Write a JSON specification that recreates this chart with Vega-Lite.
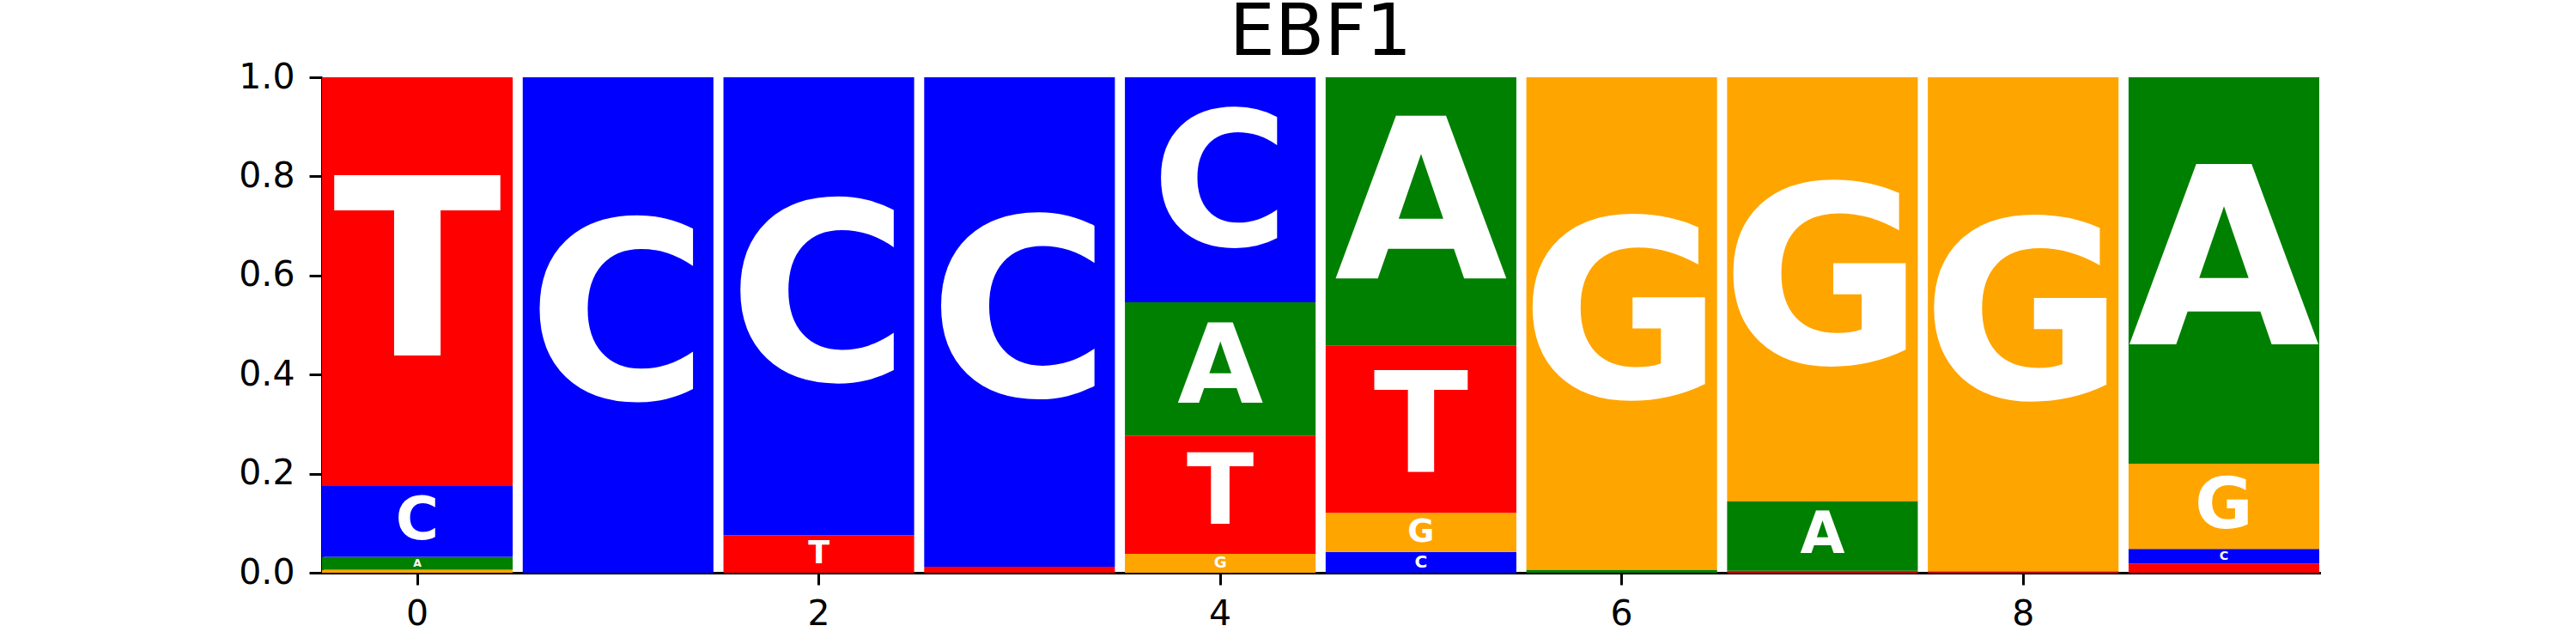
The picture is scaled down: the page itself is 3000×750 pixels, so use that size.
{
  "$schema": "https://vega.github.io/schema/vega-lite/v6.json",
  "width": 2326,
  "height": 577,
  "autosize": {"type": "none"},
  "padding": {"left": 375, "top": 90, "right": 299, "bottom": 83},
  "background": "white",
  "title": {"text": "EBF1", "fontSize": 84, "font": "DejaVu Sans", "fontWeight": "normal", "color": "black", "offset": -13, "anchor": "middle", "frame": "group"},
  "config": {"view": {"stroke": null}},
  "data": {"values": [
    {"pos": 0, "base": "G", "value": 0.006},
    {"pos": 0, "base": "A", "value": 0.026},
    {"pos": 0, "base": "C", "value": 0.143},
    {"pos": 0, "base": "T", "value": 0.825},
    {"pos": 1, "base": "C", "value": 1.0},
    {"pos": 2, "base": "T", "value": 0.076},
    {"pos": 2, "base": "C", "value": 0.924},
    {"pos": 3, "base": "T", "value": 0.012},
    {"pos": 3, "base": "C", "value": 0.988},
    {"pos": 4, "base": "G", "value": 0.038},
    {"pos": 4, "base": "T", "value": 0.239},
    {"pos": 4, "base": "A", "value": 0.269},
    {"pos": 4, "base": "C", "value": 0.454},
    {"pos": 5, "base": "C", "value": 0.042},
    {"pos": 5, "base": "G", "value": 0.079},
    {"pos": 5, "base": "T", "value": 0.337},
    {"pos": 5, "base": "A", "value": 0.542},
    {"pos": 6, "base": "A", "value": 0.006},
    {"pos": 6, "base": "G", "value": 0.994},
    {"pos": 7, "base": "T", "value": 0.004},
    {"pos": 7, "base": "A", "value": 0.140},
    {"pos": 7, "base": "G", "value": 0.856},
    {"pos": 8, "base": "T", "value": 0.003},
    {"pos": 8, "base": "G", "value": 0.997},
    {"pos": 9, "base": "T", "value": 0.018},
    {"pos": 9, "base": "C", "value": 0.030},
    {"pos": 9, "base": "G", "value": 0.172},
    {"pos": 9, "base": "A", "value": 0.780}
  ]},
  "transform": [
    {"stack": "value", "groupby": ["pos"], "sort": [{"field": "value", "order": "ascending"}], "as": ["y0", "y1"]}
  ],
  "encoding": {
    "x": {
      "field": "pos", "type": "ordinal",
      "scale": {"paddingInner": 0.05, "paddingOuter": 0},
      "axis": {"values": [0, 2, 4, 6, 8], "labelAngle": 0, "title": null, "labelFont": "DejaVu Sans", "labelFontSize": 41, "labelColor": "black", "labelPadding": 14, "tickSize": 14, "tickWidth": 3, "tickColor": "black", "domainColor": "black", "domainWidth": 3, "domainCap": "square", "grid": false}
    }
  },
  "layer": [
    {
      "mark": {"type": "bar", "cornerRadius": 0},
      "encoding": {
        "y": {"field": "y0", "type": "quantitative", "scale": {"domain": [0, 1], "nice": false},
          "axis": {"values": [0, 0.2, 0.4, 0.6, 0.8, 1.0], "format": ".1f", "title": null, "grid": false, "labelFont": "DejaVu Sans", "labelFontSize": 41, "labelColor": "black", "labelPadding": 17, "tickSize": 15, "tickWidth": 3, "tickColor": "black", "domainColor": "black", "domainWidth": 3}},
        "y2": {"field": "y1"},
        "color": {"field": "base", "type": "nominal", "legend": null,
          "scale": {"domain": ["A", "C", "G", "T"], "range": ["#008000", "#0000ff", "#ffa500", "#ff0000"]}}
      }
    },
    {
      "transform": [
        {"filter": "datum.value >= 0.02"},
        {"fold": ["y0", "y1"], "as": ["edge", "ey"]},
        {"aggregate": [{"op": "mean", "field": "ey", "as": "mid"}, {"op": "max", "field": "value", "as": "height"}], "groupby": ["pos", "base"]}
      ],
      "mark": {"type": "text", "color": "white", "font": "DejaVu Sans", "fontWeight": "bold", "baseline": "middle", "align": "center"},
      "encoding": {
        "y": {"field": "mid", "type": "quantitative"},
        "text": {"field": "base"},
        "size": {"field": "height", "type": "quantitative", "legend": null,
          "scale": {"domain": [0, 0.6], "range": [0, 288], "clamp": true}}
      }
    }
  ]
}
